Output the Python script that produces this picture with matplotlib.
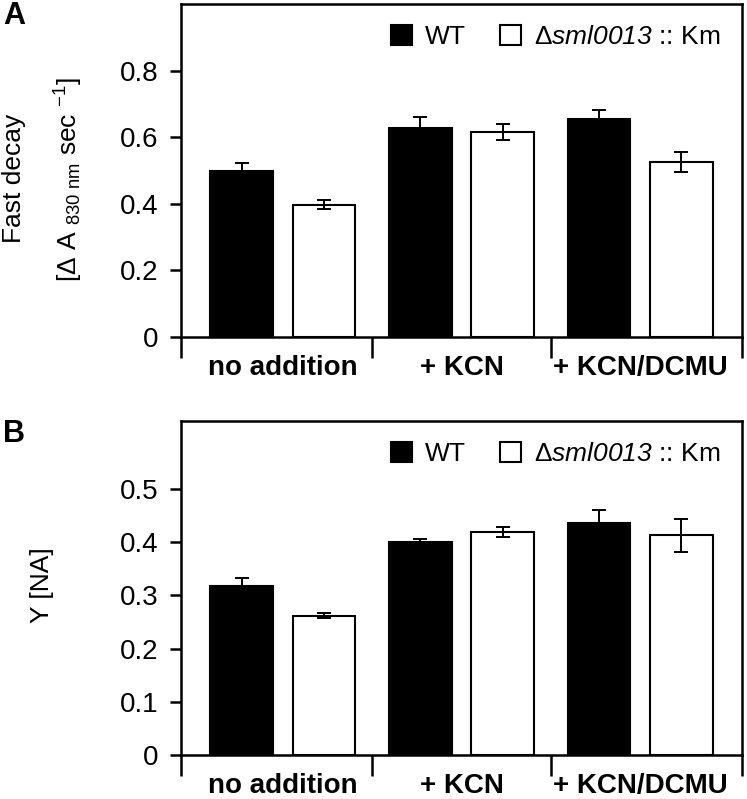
import matplotlib
matplotlib.use("Agg")
import matplotlib.pyplot as plt
from matplotlib.patches import Patch
import numpy as np

plt.rcParams['font.family'] = ['Liberation Sans', 'DejaVu Sans']
plt.rcParams['mathtext.fontset'] = 'custom'
plt.rcParams['mathtext.rm'] = 'Liberation Sans'
plt.rcParams['mathtext.it'] = 'Liberation Sans:italic'
plt.rcParams['mathtext.sf'] = 'Liberation Sans:italic'

conditions = ["no addition", "+ KCN", "+ KCN/DCMU"]
series = ["WT", r"$\Delta\mathsf{sml0013}$ :: Km"]

# panel A: fast decay
fast_wt = [0.50, 0.627, 0.654]
fast_wt_err = [0.022, 0.035, 0.027]
fast_mut = [0.397, 0.616, 0.525]
fast_mut_err = [0.014, 0.025, 0.030]

# panel B: Y(NA)
yna_wt = [0.318, 0.401, 0.437]
yna_wt_err = [0.015, 0.006, 0.023]
yna_mut = [0.262, 0.419, 0.413]
yna_mut_err = [0.005, 0.009, 0.031]

W, H = 747, 799
fig = plt.figure(figsize=(W / 100, H / 100), dpi=100)

def box(x0, y0, x1, y1):
    return [x0 / W, 1 - y1 / H, (x1 - x0) / W, (y1 - y0) / H]

axA = fig.add_axes(box(181, 4, 742, 337))
axB = fig.add_axes(box(181, 421, 742, 755))

x = np.arange(len(conditions))
bw = 0.35
off = 0.23
lw = 1.8

def draw(ax, wt, wte, mut, mute, ylim, yticks, ticklabels):
    ax.bar(x - off, wt, bw, color='black', edgecolor='black', linewidth=1.5,
           yerr=wte, error_kw=dict(ecolor='black', elinewidth=1.4, capsize=5, capthick=1.4),
           label=series[0], zorder=2)
    ax.bar(x + off, mut, bw, color='white', edgecolor='black', linewidth=1.5,
           yerr=mute, error_kw=dict(ecolor='black', elinewidth=1.4, capsize=5, capthick=1.4),
           label=series[1], zorder=2)
    ax.set_xlim(-0.57, 2.57)
    ax.set_ylim(*ylim)
    ax.set_yticks(yticks)
    ax.set_yticklabels(ticklabels, fontsize=20)
    ax.tick_params(axis='y', direction='out', length=8, width=lw, pad=8)
    # category dividers below the axis
    ax.set_xticks([-0.57, 0.5, 1.5, 2.57])
    ax.set_xticklabels(['', '', '', ''])
    ax.tick_params(axis='x', which='major', direction='out', length=15, width=lw)
    ax.set_xticks(x, minor=True)
    ax.set_xticklabels(conditions, minor=True, fontsize=20, fontweight='bold')
    ax.tick_params(axis='x', which='minor', length=0, pad=13)
    for s in ax.spines.values():
        s.set_linewidth(lw)
    handles = [Patch(facecolor='black', edgecolor='black', linewidth=1.5),
               Patch(facecolor='white', edgecolor='black', linewidth=1.5)]
    ax.legend(handles, series, ncol=2, loc='upper right', frameon=False,
              fontsize=19, handlelength=0.8, handleheight=0.8, handletextpad=0.5,
              columnspacing=1.3, borderaxespad=0.4)

draw(axA, fast_wt, fast_wt_err, fast_mut, fast_mut_err, (0, 1.0),
     [0, 0.2, 0.4, 0.6, 0.8], ['0', '0.2', '0.4', '0.6', '0.8'])
draw(axB, yna_wt, yna_wt_err, yna_mut, yna_mut_err, (0, 0.628),
     [0, 0.1, 0.2, 0.3, 0.4, 0.5], ['0', '0.1', '0.2', '0.3', '0.4', '0.5'])

fig.text(14 / W, 1 - 178 / H, "Fast decay", rotation=90, fontsize=19,
         ha='center', va='center')
fig.text(69 / W, 1 - 180 / H, r"[$\Delta$ A $_{830\ \mathrm{nm}}$ sec $^{-1}$]",
         rotation=90, fontsize=19, ha='center', va='center')
fig.text(42 / W, 1 - 585 / H, "Y [NA]", rotation=90, fontsize=19,
         ha='center', va='center')

fig.text(3 / W, 1 - 16 / H, "A", fontsize=22, fontweight='bold', ha='left', va='center')
fig.text(3 / W, 1 - 434 / H, "B", fontsize=22, fontweight='bold', ha='left', va='center')

fig.savefig("out.png", dpi=100)
